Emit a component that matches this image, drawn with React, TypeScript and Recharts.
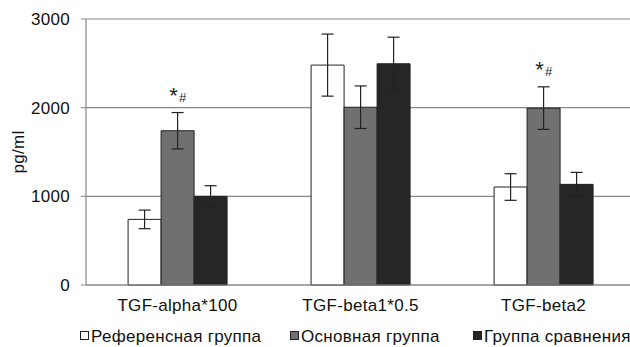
import { BarChart, Bar, XAxis, YAxis, CartesianGrid, ErrorBar, LabelList } from 'recharts';

const categories = ['TGF-alpha*100', 'TGF-beta1*0.5', 'TGF-beta2'];
const reference = [740, 2480, 1105];
const referenceErr = [105, 350, 150];
const main = [1740, 2005, 1995];
const mainErr = [205, 240, 240];
const comparison = [1000, 2495, 1135];
const comparisonErr = [120, 300, 135];
const marks = ['*#', '', '*#'];
const yTicks = [0, 1000, 2000, 3000];
const seriesNames = ['Референсная группа', 'Основная группа', 'Группа сравнения'];
const seriesColors = ['#ffffff', '#707070', '#262626'];

const data = categories.map((name, i) => ({
  name,
  idx: i + 0.5,
  reference: reference[i],
  referenceErr: referenceErr[i],
  main: main[i],
  mainErr: mainErr[i],
  comparison: comparison[i],
  comparisonErr: comparisonErr[i],
  mark: marks[i],
}));

const font = '"Liberation Sans", Arial, sans-serif';
const axisGray = '#888888';

function MarkLabel(props: any) {
  const { x, y, width, height, index } = props;
  const m = marks[index];
  if (!m) return null;
  const perUnit = height / main[index];
  const top = y - mainErr[index] * perUnit;
  const cx = x + width / 2;
  return (
    <g fontFamily={font} fill="#222">
      <text x={cx - 4} y={top - 10} fontSize={22} textAnchor="middle">*</text>
      <text x={cx + 5} y={top - 11} fontSize={13} textAnchor="middle">#</text>
    </g>
  );
}

function YLabel(props: any) {
  const vb = props.viewBox;
  const cx = 18;
  const cy = vb.y + vb.height / 2;
  return (
    <text x={cx} y={cy} transform={`rotate(-90 ${cx} ${cy})`} textAnchor="middle" dominantBaseline="central"
      fontSize={17} fontFamily={font} fill="#111" letterSpacing={0.3}>
      pg/ml
    </text>
  );
}

// legend drawn inside the svg so it sits exactly under the axis labels
function LegendRow() {
  return (
    <g fontFamily={font} fontSize={17} letterSpacing={0.3} fill="#111">
      {seriesNames.map((n, i) => {
        const x0 = [80, 290, 473][i];
        return (
          <g key={n}>
            <rect x={x0 + 0.5} y={331.5} width={8} height={8} fill={seriesColors[i]} stroke="#222" />
            <text x={x0 + 11} y={342}>{n}</text>
          </g>
        );
      })}
    </g>
  );
}

export default function App() {
  return (
    <div style={{ position: 'fixed', left: 0, top: 0, width: 630, height: 347, overflow: 'hidden', background: '#fff' }}>
      <BarChart width={645} height={347} data={data} margin={{ top: 19, right: 10, left: 0, bottom: 30 }}
        barCategoryGap="23%" barGap={0}>
        <CartesianGrid vertical={false} stroke={axisGray} strokeWidth={1.2} />
        <XAxis xAxisId="ticks" type="number" dataKey="idx" domain={[0, 3]} ticks={[0, 1, 2, 3]} height={0}
          tickFormatter={() => ''} axisLine={false} tickSize={5} tickLine={{ stroke: axisGray }} />
        <XAxis dataKey="name" height={32} axisLine={{ stroke: axisGray, strokeWidth: 1.2 }} tickLine={false}
          tickSize={5} tickMargin={9}
          tick={{ fontSize: 17, fontFamily: font, fill: '#111', letterSpacing: 0.3 }} />
        <YAxis width={86} domain={[0, 3000]} ticks={yTicks} axisLine={{ stroke: axisGray, strokeWidth: 1.2 }}
          tickLine={{ stroke: axisGray }} tickSize={5} tickMargin={11}
          tick={{ fontSize: 17, fontFamily: font, fill: '#111', letterSpacing: 0.3 }}
          label={{ content: YLabel }} />
        <Bar dataKey="reference" fill={seriesColors[0]} stroke="#222" strokeWidth={1} isAnimationActive={false}>
          <ErrorBar dataKey="referenceErr" width={6} stroke="#222" strokeWidth={1.2} />
        </Bar>
        <Bar dataKey="main" fill={seriesColors[1]} stroke="#222" strokeWidth={1} isAnimationActive={false}>
          <ErrorBar dataKey="mainErr" width={6} stroke="#222" strokeWidth={1.2} />
          <LabelList dataKey="mark" content={MarkLabel} />
        </Bar>
        <Bar dataKey="comparison" fill={seriesColors[2]} stroke="#222" strokeWidth={1} isAnimationActive={false}>
          <ErrorBar dataKey="comparisonErr" width={6} stroke="#222" strokeWidth={1.2} />
        </Bar>
        <LegendRow />
      </BarChart>
    </div>
  );
}
